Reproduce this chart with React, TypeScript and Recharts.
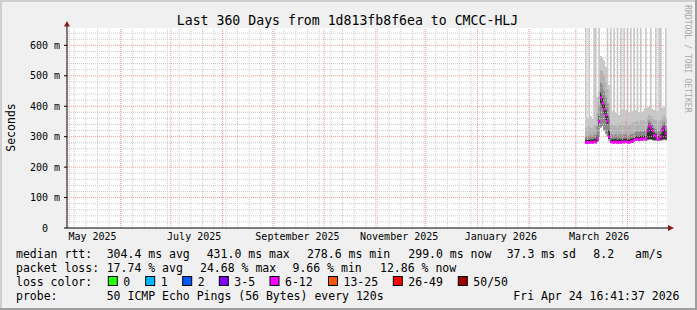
import React from 'react';
import { ComposedChart, Area, Scatter, XAxis, YAxis, CartesianGrid, ReferenceLine } from 'recharts';

const FONT = '"DejaVu Sans Mono", monospace';

// ---- data (one value per day, Mar 6 .. Apr 24 2026) ----
const days = [
  '2026-03-06', '2026-03-07', '2026-03-08', '2026-03-09', '2026-03-10', '2026-03-11', '2026-03-12',
  '2026-03-13', '2026-03-14', '2026-03-15', '2026-03-16', '2026-03-17', '2026-03-18', '2026-03-19',
  '2026-03-20', '2026-03-21', '2026-03-22', '2026-03-23', '2026-03-24', '2026-03-25', '2026-03-26',
  '2026-03-27', '2026-03-28', '2026-03-29', '2026-03-30', '2026-03-31', '2026-04-01', '2026-04-02',
  '2026-04-03', '2026-04-04', '2026-04-05', '2026-04-06', '2026-04-07', '2026-04-08', '2026-04-09',
  '2026-04-10', '2026-04-11', '2026-04-12', '2026-04-13', '2026-04-14', '2026-04-15', '2026-04-16',
  '2026-04-17', '2026-04-18', '2026-04-19', '2026-04-20', '2026-04-21', '2026-04-22', '2026-04-23',
  '2026-04-24',
];
// median rtt (ms)
const medianRtt = [
  281, 280, 281, 282, 281, 283, 282, 292, 350, 428, 410, 390, 370, 352, 300, 283, 282, 281, 283, 280,
  282, 281, 283, 282, 284, 282, 281, 283, 284, 289, 291, 292, 290, 292, 291, 293, 292, 318, 336, 330,
  320, 305, 302, 292, 291, 300, 322, 330, 311, 299,
];
// smoke: lowest ping
const smokeMin = [
  277, 276, 277, 278, 277, 279, 278, 284, 300, 330, 335, 320, 310, 300, 288, 279, 278, 277, 279, 276,
  278, 277, 279, 278, 280, 278, 277, 279, 280, 284, 286, 287, 285, 287, 286, 288, 287, 288, 289, 289,
  288, 287, 287, 287, 286, 287, 288, 289, 288, 287,
];
// smoke: dense core lower edge
const smokeP25 = [
  280, 279, 280, 281, 280, 282, 281, 285, 335, 410, 395, 375, 355, 338, 292, 282, 281, 280, 282, 279,
  281, 280, 282, 281, 283, 281, 280, 282, 283, 288, 290, 291, 289, 291, 290, 292, 291, 291, 292, 292,
  291, 290, 290, 291, 290, 290, 291, 292, 291, 290,
];
// smoke: dense core upper edge
const smokeP60 = [
  290, 289, 290, 291, 290, 293, 292, 304, 366, 444, 426, 406, 388, 369, 322, 293, 292, 291, 293, 290,
  292, 291, 293, 292, 294, 292, 291, 293, 294, 299, 301, 302, 300, 302, 301, 303, 302, 325, 343, 337,
  328, 313, 310, 302, 301, 308, 330, 337, 321, 309,
];
// smoke: 75th percentile
const smokeP75 = [
  302, 299, 303, 304, 300, 306, 305, 334, 404, 478, 468, 448, 428, 408, 364, 308, 306, 303, 308, 301,
  307, 305, 309, 306, 310, 305, 304, 308, 310, 314, 316, 318, 315, 318, 316, 320, 317, 335, 353, 348,
  341, 328, 325, 319, 318, 324, 343, 349, 335, 327,
];
// smoke: 90th percentile
const smokeP90 = [
  330, 322, 335, 328, 326, 340, 336, 380, 450, 520, 515, 500, 480, 455, 410, 345, 340, 336, 342, 330,
  344, 338, 348, 336, 350, 334, 338, 342, 346, 348, 350, 352, 346, 354, 348, 355, 350, 362, 372, 368,
  362, 356, 355, 350, 348, 356, 365, 370, 362, 358,
];
// smoke: highest ping (timeouts / spikes run off the top of the graph)
const smokeMax = [
  720, 362, 720, 368, 358, 720, 720, 430, 720, 565, 560, 550, 530, 720, 470, 720, 385, 720, 378, 720,
  372, 720, 390, 720, 388, 720, 380, 720, 384, 720, 388, 720, 380, 720, 382, 392, 720, 395, 400, 720,
  392, 388, 720, 385, 720, 720, 395, 398, 720, 392,
];

// ---- axis / grid definitions ----
const yTicks = [0, 100, 200, 300, 400, 500, 600];
const xLabelDates = ['2025-05-15', '2025-07-15', '2025-09-15', '2025-11-15', '2026-01-15', '2026-03-15'];
const xLabels = ['May 2025', 'July 2025', 'September 2025', 'November 2025', 'January 2026', 'March 2026'];
const monthStarts = [
  '2025-05-01', '2025-06-01', '2025-07-01', '2025-08-01', '2025-09-01', '2025-10-01',
  '2025-11-01', '2025-12-01', '2026-01-01', '2026-02-01', '2026-03-01', '2026-04-01',
];

// ---- legend text ----
const title = 'Last 360 Days from 1d813fb8f6ea to CMCC-HLJ';
const rttStats = ['304.4 ms avg', '431.0 ms max', '278.6 ms min', '299.0 ms now', '37.3 ms sd', '8.2', 'am/s'];
const lossStats = ['17.74 % avg', '24.68 % max', '9.66 % min', '12.86 % now'];
const lossLabels = ['0', '1', '2', '3-5', '6-12', '13-25', '26-49', '50/50'];
const lossColors = ['#26ff00', '#00b8ff', '#0059ff', '#7e00ff', '#ff00ff', '#ff5500', '#ff0000', '#a00000'];
const probeText = '50 ICMP Echo Pings (56 Bytes) every 120s';
const stampText = 'Fri Apr 24 16:41:37 2026';

const START = Date.UTC(2025, 3, 29, 16, 41, 37);
const END = Date.UTC(2026, 3, 24, 16, 41, 37);
const DAY = 86400000;
const noonTs = (s: string) => Date.parse(s + 'T12:00:00Z');
const midnightTs = (s: string) => Date.parse(s + 'T00:00:00Z');

const data = days.map((d, i) => ({
  t: noonTs(d),
  med: medianRtt[i],
  bandTop: [smokeMin[i], smokeMax[i]],
  bandUpper: [smokeMin[i], smokeP90[i]],
  bandMid: [smokeMin[i], smokeP75[i]],
  bandCore: [smokeP25[i], smokeP60[i]],
}));

const monthTs = monthStarts.map(midnightTs);
const labelTs = xLabelDates.map(midnightTs);
const weekTs: number[] = [];
for (let t = midnightTs('2025-05-04'); t < END; t += 7 * DAY) weekTs.push(t);
const yMinor: number[] = [];
for (let v = 20; v < 660; v += 20) if (v % 100 !== 0) yMinor.push(v);
const yMajor = yTicks.filter((v) => v > 0);

const XTick = (props: any) => {
  const { x, y, payload } = props;
  const idx = labelTs.indexOf(payload.value);
  return (
    <text x={x} y={y} dy={7} textAnchor="middle" fontFamily={FONT} fontSize={10} fill="#000">
      {idx >= 0 ? xLabels[idx] : ''}
    </text>
  );
};

const YTick = (props: any) => {
  const { x, y, payload } = props;
  const v = payload.value;
  const label = v === 0 ? '0\u00a0\u00a0' : `${v} m`;
  return (
    <text x={x} y={y} dy={3.6} textAnchor="end" fontFamily={FONT} fontSize={10} fill="#000">
      {label}
    </text>
  );
};

const MedianMark = (props: any) => {
  const { cx, cy } = props;
  if (cx == null || cy == null) return <g />;
  return <rect x={cx - 0.2} y={cy - 1.3} width={2.1} height={2.6} fill="#ff00ff" />;
};

const rttX = [106.7, 206.7, 307, 408.3, 506.7, 593.3, 635];
const lossX = [106.7, 200, 292.5, 380];
const boxX = [108.3, 145.7, 182.7, 219.3, 270, 328.5, 393.3, 458.3];

export default function App() {
  return (
    <div style={{ position: 'absolute', left: 0, top: 0, width: 697, height: 310, background: '#f0f0f0', overflow: 'hidden' }}>
      <ComposedChart
        width={697}
        height={310}
        data={data}
        margin={{ top: 28, right: 30, bottom: 52, left: 7 }}
      >
        <CartesianGrid fill="#ffffff" stroke="none" horizontal={false} vertical={false} />
        <XAxis
          xAxisId="m"
          type="number"
          dataKey="t"
          domain={[START, END]}
          allowDataOverflow
          ticks={monthTs}
          tick={false}
          tickLine={{ stroke: '#e06060' }}
          tickSize={3}
          axisLine={false}
          height={0}
        />
        <XAxis
          type="number"
          dataKey="t"
          domain={[START, END]}
          allowDataOverflow
          ticks={labelTs}
          tick={<XTick />}
          tickLine={false}
          tickSize={0}
          tickMargin={5}
          axisLine={{ stroke: '#000' }}
          height={30}
          interval={0}
        />
        <YAxis
          type="number"
          domain={[0, 657]}
          allowDataOverflow
          ticks={yTicks}
          tick={<YTick />}
          tickLine={{ stroke: '#000' }}
          tickSize={3}
          tickMargin={4}
          axisLine={{ stroke: '#000' }}
          width={60}
          interval={0}
        />
        <Area type="stepAfter" dataKey="bandTop" stroke="none" fill="#c8c8c8" fillOpacity={1} isAnimationActive={false} dot={false} activeDot={false} />
        <Area type="stepAfter" dataKey="bandUpper" stroke="none" fill="#b2b2b2" fillOpacity={1} isAnimationActive={false} dot={false} activeDot={false} />
        <Area type="stepAfter" dataKey="bandMid" stroke="none" fill="#8a8a8a" fillOpacity={1} isAnimationActive={false} dot={false} activeDot={false} />
        <Area type="stepAfter" dataKey="bandCore" stroke="none" fill="#2e2e2e" fillOpacity={1} isAnimationActive={false} dot={false} activeDot={false} />
        <Scatter dataKey="med" isAnimationActive={false} shape={<MedianMark />} />
        {weekTs.map((t) => (
          <ReferenceLine key={'w' + t} x={t} stroke="#cccccc" strokeDasharray="1 1" strokeWidth={1} />
        ))}
        {yMinor.map((v) => (
          <ReferenceLine key={'ym' + v} y={v} stroke="#cccccc" strokeDasharray="1 1" strokeWidth={1} />
        ))}
        {monthTs.map((t) => (
          <ReferenceLine key={'m' + t} x={t} stroke="#f29a9a" strokeDasharray="1 1" strokeWidth={1} />
        ))}
        {yMajor.map((v) => (
          <ReferenceLine key={'yM' + v} y={v} stroke="#f29a9a" strokeDasharray="1 1" strokeWidth={1} />
        ))}
      </ComposedChart>
      <svg width={697} height={310} style={{ position: 'absolute', left: 0, top: 0, pointerEvents: 'none' }}>
        {/* frame */}
        <rect x={0} y={0} width={697} height={2} fill="#cfcfcf" />
        <rect x={0} y={0} width={2} height={310} fill="#cfcfcf" />
        <rect x={0} y={308} width={697} height={2} fill="#9e9e9e" />
        <rect x={695} y={0} width={2} height={310} fill="#9e9e9e" />
        {/* axis arrows */}
        <line x1={67} y1={28} x2={67} y2={25} stroke="#000" strokeWidth={1} />
        <polygon points="64,26.5 70,26.5 67,21" fill="#8b1c1c" />
        <line x1={667} y1={228} x2={669} y2={228} stroke="#000" strokeWidth={1} />
        <polygon points="668,225 668,231 674,228" fill="#8b1c1c" />
        {/* title */}
        <text x={347.5} y={25} textAnchor="middle" fontFamily={FONT} fontSize={13.2} fill="#000">{title}</text>
        {/* y label */}
        <text transform="translate(15,127.5) rotate(-90)" textAnchor="middle" fontFamily={FONT} fontSize={11.5} fill="#000">Seconds</text>
        {/* watermark */}
        <text transform="translate(685,5) rotate(90)" textAnchor="start" fontFamily={FONT} fontSize={8.15} fill="#a8a8a8">RRDTOOL / TOBI OETIKER</text>
        {/* legend */}
        <g fontFamily={FONT} fontSize={11.5} fill="#000">
          <text x={16} y={258}>median rtt:</text>
          {rttStats.map((s, i) => (
            <text key={'r' + i} x={rttX[i]} y={258}>{s}</text>
          ))}
          <text x={16} y={272}>packet loss:</text>
          {lossStats.map((s, i) => (
            <text key={'l' + i} x={lossX[i]} y={272}>{s}</text>
          ))}
          <text x={16} y={286}>loss color:</text>
          {lossLabels.map((s, i) => (
            <g key={'c' + i}>
              <rect x={boxX[i]} y={276.5} width={9} height={9} fill={lossColors[i]} stroke="#000" strokeWidth={1} />
              <text x={boxX[i] + 15} y={286}>{s}</text>
            </g>
          ))}
          <text x={16} y={300}>probe:</text>
          <text x={106.7} y={300}>{probeText}</text>
          <text x={513.3} y={300}>{stampText}</text>
        </g>
      </svg>
    </div>
  );
}
